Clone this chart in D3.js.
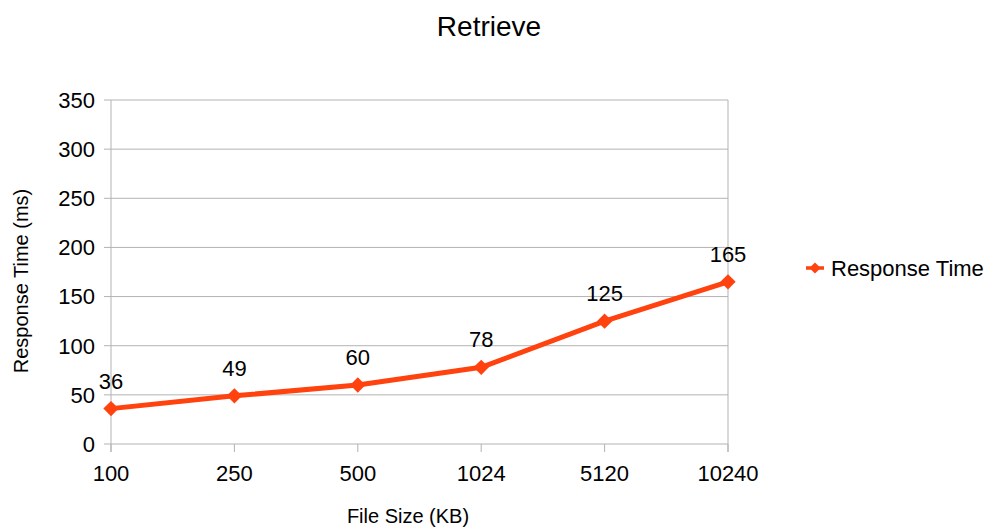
<!DOCTYPE html>
<html>
<head>
<meta charset="utf-8">
<script src="https://cdn.jsdelivr.net/npm/d3@7"></script>
<style>
  html, body { margin: 0; padding: 0; background: #fff; }
  svg { display: block; font-family: "Liberation Sans", Arial, sans-serif; }
</style>
</head>
<body>
<svg id="chart" width="984" height="527"></svg>
<script>
// File sizes (KB) and measured retrieve response times (ms)
const fileSizes = ["100", "250", "500", "1024", "5120", "10240"];
const responseTimes = [36, 49, 60, 78, 125, 165];
const yTicks = [0, 50, 100, 150, 200, 250, 300, 350];
const seriesName = "Response Time";

const svg = d3.select("#chart");
const color = "#ff420e";
const plot = { left: 111, right: 728, top: 100, bottom: 444 };

const x = d3.scalePoint().domain(fileSizes).range([plot.left, plot.right]).padding(0);
const y = d3.scaleLinear().domain([0, 350]).range([plot.bottom, plot.top]);

// Horizontal gridlines
svg.append("g")
  .selectAll("line")
  .data(yTicks)
  .join("line")
  .attr("x1", plot.left - 7)
  .attr("x2", plot.right)
  .attr("y1", d => y(d))
  .attr("y2", d => y(d))
  .attr("stroke", "#b3b3b3")
  .attr("stroke-width", 1);

// Plot frame: left and right edges
svg.append("line")
  .attr("x1", plot.left).attr("x2", plot.left)
  .attr("y1", plot.top).attr("y2", plot.bottom + 8)
  .attr("stroke", "#b3b3b3");
svg.append("line")
  .attr("x1", plot.right).attr("x2", plot.right)
  .attr("y1", plot.top).attr("y2", plot.bottom + 8)
  .attr("stroke", "#b3b3b3");

// X tick marks
svg.append("g")
  .selectAll("line")
  .data(fileSizes)
  .join("line")
  .attr("x1", d => x(d)).attr("x2", d => x(d))
  .attr("y1", plot.bottom).attr("y2", plot.bottom + 8)
  .attr("stroke", "#b3b3b3");

// Y tick labels
svg.append("g")
  .selectAll("text")
  .data(yTicks)
  .join("text")
  .attr("x", plot.left - 16)
  .attr("y", d => y(d))
  .attr("dy", "0.36em")
  .attr("text-anchor", "end")
  .attr("font-size", 22)
  .attr("fill", "#000")
  .text(d => d);

// X tick labels
svg.append("g")
  .selectAll("text")
  .data(fileSizes)
  .join("text")
  .attr("x", d => x(d))
  .attr("y", plot.bottom + 37)
  .attr("text-anchor", "middle")
  .attr("font-size", 22)
  .attr("fill", "#000")
  .text(d => d);

// Title and axis titles
svg.append("text")
  .attr("x", 489).attr("y", 36)
  .attr("text-anchor", "middle")
  .attr("font-size", 28)
  .text("Retrieve");

svg.append("text")
  .attr("x", 408).attr("y", 523)
  .attr("text-anchor", "middle")
  .attr("font-size", 20)
  .text("File Size (KB)");

svg.append("text")
  .attr("transform", "translate(28,281) rotate(-90)")
  .attr("text-anchor", "middle")
  .attr("font-size", 20)
  .text("Response Time (ms)");

// Series line
const pts = fileSizes.map((f, i) => ({ f, v: responseTimes[i] }));
svg.append("path")
  .datum(pts)
  .attr("fill", "none")
  .attr("stroke", color)
  .attr("stroke-width", 5)
  .attr("stroke-linejoin", "round")
  .attr("d", d3.line().x(d => x(d.f)).y(d => y(d.v)));

// Diamond markers
const diamond = d3.symbol().type(d3.symbolDiamond2).size(150);
svg.append("g")
  .selectAll("path")
  .data(pts)
  .join("path")
  .attr("transform", d => `translate(${x(d.f)},${y(d.v)})`)
  .attr("d", diamond)
  .attr("fill", color);

// Value labels
svg.append("g")
  .selectAll("text")
  .data(pts)
  .join("text")
  .attr("x", d => x(d.f))
  .attr("y", d => y(d.v) - 20)
  .attr("text-anchor", "middle")
  .attr("font-size", 22)
  .text(d => d.v);

// Legend
const lg = svg.append("g").attr("transform", "translate(806,268)");
lg.append("line").attr("x1", 0).attr("x2", 18).attr("y1", 0).attr("y2", 0)
  .attr("stroke", color).attr("stroke-width", 3.5);
lg.append("path").attr("transform", "translate(9,0)")
  .attr("d", d3.symbol().type(d3.symbolDiamond2).size(80)).attr("fill", color);
lg.append("text").attr("x", 25).attr("y", 0).attr("dy", "0.36em")
  .attr("font-size", 22).text(seriesName);
</script>
</body>
</html>
